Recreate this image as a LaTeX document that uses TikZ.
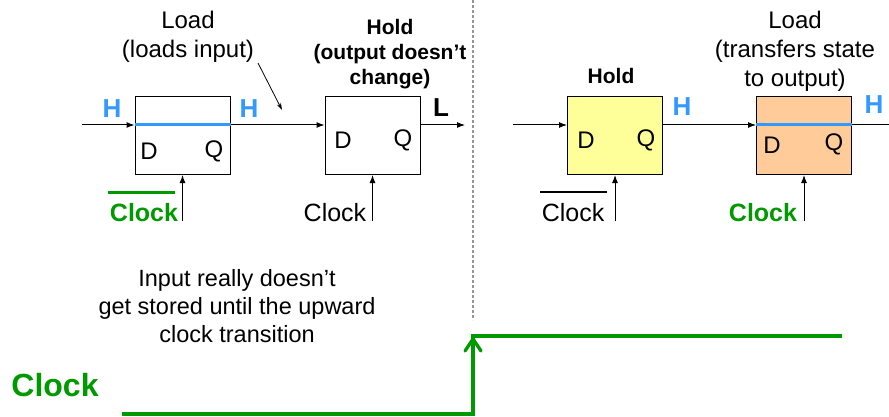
\documentclass[tikz,border=0pt]{standalone}
\usepackage{fontspec}
\setmainfont{Liberation Sans}
\usetikzlibrary{arrows.meta}
\definecolor{hiblue}{RGB}{51,153,255}
\definecolor{clkgreen}{RGB}{0,153,0}
\definecolor{holdfill}{RGB}{255,255,153}
\definecolor{loadfill}{RGB}{255,204,153}
\definecolor{sepgray}{RGB}{150,150,150}
\newcommand\fsz[2]{\fontsize{#1}{#2}\selectfont}

\begin{document}
\begin{tikzpicture}[x=1pt,y=-1pt,
  ff/.style={draw=black, line width=1pt, minimum width=95pt, minimum height=78pt,
             inner sep=0pt, anchor=north west},
  sig/.style={line width=1pt, -{Latex[length=8pt,width=6pt]}},
  wire/.style={line width=1pt},
  hiline/.style={hiblue, line width=3pt},
  pin/.style={inner sep=0pt, font=\fsz{24}{28}},
  hlbl/.style={inner sep=0pt, text=hiblue, font=\fsz{26}{30}\bfseries},
  note/.style={inner sep=0pt, align=center, font=\fsz{24}{29}},
  bnote/.style={inner sep=0pt, align=center, font=\fsz{21}{25}\bfseries},
  clk/.style={inner sep=0pt, font=\fsz{25}{30}},
  gclk/.style={inner sep=0pt, text=clkgreen, font=\fsz{25}{30}\bfseries}]
\useasboundingbox (0,0) rectangle (889,417);

% flip-flops
\node[ff] (b1) at (134.5,96) {};
\node[ff] (b2) at (324.5,96) {};
\node[ff, fill=holdfill] (b3) at (567,96) {};
\node[ff, fill=loadfill] (b4) at (756,96) {};

% pin letters
\node[pin] (b1d) at (149,151) {D};
\node[pin] (b1q) at (214,151) {Q};
\node[pin] (b2d) at (343,140) {D};
\node[pin] (b2q) at (403,140) {Q};
\node[pin] (b3d) at (586,140) {D};
\node[pin] (b3q) at (646,140) {Q};
\node[pin] (b4d) at (772,145) {D};
\node[pin] (b4q) at (834,144) {Q};

% data path, left half
\coordinate (d1) at (82,125);
\coordinate (q2) at (465,125);
\draw[sig] (d1) -- (b1.west |- d1);
\draw[hiline] (b1.west |- d1) -- (b1.east |- d1);
\draw[sig] (b1.east |- d1) -- (b2.west |- d1);
\draw[sig] (b2.east |- d1) -- (q2);

% data path, right half
\coordinate (d3) at (513,125);
\coordinate (q4) at (889,125);
\draw[sig] (d3) -- (b3.west |- d3);
\draw[sig] (b3.east |- d3) -- (b4.west |- d3);
\draw[hiline] (b4.west |- d3) -- (b4.east |- d3);
\draw[wire] (b4.east |- d3) -- (q4);

% clock inputs
\draw[sig] ([yshift=-46pt]b1.south) -- (b1.south);
\draw[sig] ([yshift=-46pt]b2.south) -- (b2.south);
\draw[sig] ([yshift=-46pt]b3.south) -- (b3.south);
\draw[sig] ([yshift=-46pt]b4.south) -- (b4.south);

% clock labels
\node[gclk] (k1) at (144,213) {Clock};
\draw[clkgreen, line width=3pt] (108,192) -- (175,192);
\node[clk] (k2) at (335,213) {Clock};
\node[clk] (k3) at (573,213) {Clock};
\draw[line width=1.2pt] (540,192) -- (607,192);
\node[gclk] (k4) at (763,213) {Clock};

% logic levels
\node[hlbl] (h1) at (112,109) {H};
\node[hlbl] (h2) at (249,109) {H};
\node[inner sep=0pt, font=\fsz{26}{30}\bfseries] (l2) at (441,108) {L};
\node[hlbl] (h3) at (682,107) {H};
\node[hlbl] (h4) at (874,105) {H};

% annotations
\node[note] (load1) at (188,37) {Load\\(loads input)};
\coordinate (p0) at (258,63);
\coordinate (p1) at (282,110);
\draw[line width=0.8pt, -{Stealth[length=7pt,width=4.5pt]}] (p0) -- (p1);
\node[bnote] (hold2) at (390,54) {Hold\\(output doesn’t\\change)};
\node[bnote] (hold3) at (611,76) {Hold};
\node[note] (load4) at (795,51) {Load\\(transfers state\\to output)};

% separator between the two phases
\coordinate (s0) at (473,0);
\coordinate (s1) at (473,320);
\draw[sepgray, line width=1.2pt, dash pattern=on 3pt off 2pt] (s0) -- (s1);

% explanation
\node[inner sep=0pt, align=center, font=\fsz{23.5}{28}] (expl) at (237,306)
  {Input really doesn’t\\get stored until the upward\\clock transition};

% clock waveform
\node[inner sep=0pt, text=clkgreen, font=\fsz{32}{36}\bfseries] (bigclk) at (55,385) {Clock};
\coordinate (w0) at (122,414);
\coordinate (w1) at (473,414);
\coordinate (w2) at (473,336);
\coordinate (w3) at (842,336);
\draw[clkgreen, line width=3.3pt] (w0) -- (w1) -- (w2) -- (w3);
\draw[clkgreen, line width=3.3pt, -{Straight Barb[length=12pt,width=16pt,line cap=round]}] (w1) -- (w2);
\end{tikzpicture}
\end{document}
